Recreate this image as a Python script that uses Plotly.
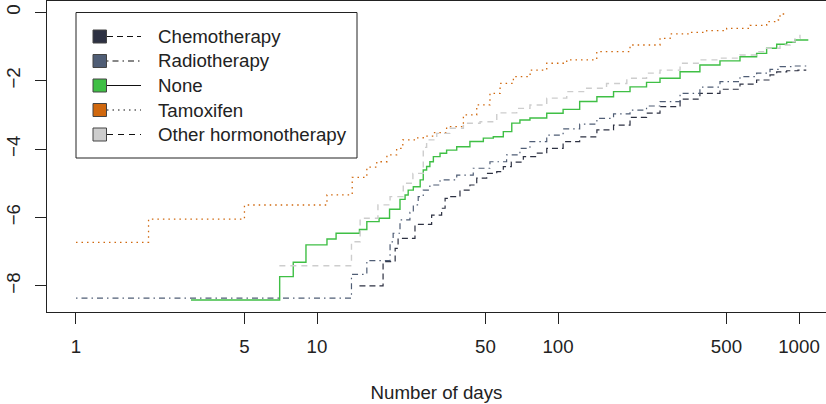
import plotly.graph_objects as go

# ---------------- data ----------------
chemo_t = [15, 18.8, 21.1, 21.7, 25.5, 29.9, 32.9, 34.0, 35.6, 39.2, 43.1, 46.0, 50.6, 55.7, 59.3, 64,
           71.8, 81.6, 89.8, 105, 123, 145, 170, 199, 233, 265, 321, 388, 470, 569, 667, 758, 808,
           889, 990, 1072]
chemo_y = [-8.0, -7.29, -6.90, -6.61, -6.20, -5.93, -5.73, -5.44, -5.39, -5.20, -5.05, -4.85, -4.71,
           -4.66, -4.51, -4.38, -4.22, -4.12, -3.98, -3.78, -3.64, -3.44, -3.30, -3.07, -2.95, -2.76,
           -2.54, -2.37, -2.25, -2.10, -1.98, -1.83, -1.74, -1.71, -1.69, -1.69]

radio_t = [1, 13.9, 16.1, 20.1, 20.7, 22.1, 24.3, 25.1, 26.3, 27.6, 29.4, 32.4, 38.0, 44.5, 52.2,
           61.2, 69.5, 76.5, 89.8, 105, 123, 145, 170, 199, 233, 265, 321, 388, 470, 569, 667, 758,
           834, 947, 1093]
radio_y = [-8.36, -7.66, -7.26, -6.71, -6.46, -6.07, -5.85, -5.63, -5.39, -5.20, -5.05, -4.90, -4.76,
           -4.56, -4.37, -4.17, -3.98, -3.78, -3.59, -3.41, -3.27, -3.10, -2.97, -2.86, -2.74, -2.61,
           -2.37, -2.19, -2.03, -1.88, -1.78, -1.67, -1.59, -1.57, -1.56]

none_t = [3.0, 7.0, 7.97, 9.0, 11.0, 12.0, 15.0, 16.1, 18.1, 20.0, 22.1, 23.2, 23.9, 25.1, 26.8, 27.6,
          28.5, 29.4, 30.4, 32.4, 34.5, 38.0, 43.1, 49.0, 53.9, 59.3, 64.3, 69.5, 76.5, 89.8, 105, 123,
          145, 170, 199, 233, 265, 321, 388, 470, 569, 667, 734, 808, 889, 962, 1093]
none_y = [-8.41, -7.73, -7.31, -6.80, -6.63, -6.46, -6.35, -6.12, -6.02, -5.76, -5.47, -5.34, -5.20,
          -5.10, -4.90, -4.61, -4.51, -4.37, -4.22, -4.12, -4.03, -3.93, -3.78, -3.68, -3.64, -3.49,
          -3.24, -3.15, -3.09, -2.95, -2.84, -2.61, -2.47, -2.32, -2.18, -2.05, -1.93, -1.74, -1.54,
          -1.42, -1.30, -1.20, -1.05, -0.935, -0.877, -0.81, -0.81]

tamox_t = [1, 2, 5, 11, 14, 16.1, 17.7, 19.5, 21.4, 22.7, 25.9, 27.6, 30.4, 34.5, 40.5, 46, 52.2, 57.5,
           65.3, 76.6, 89.8, 108.7, 144.8, 199, 265, 292, 353, 414, 501, 626, 734, 820, 834, 889]
tamox_y = [-6.725, -6.05, -5.635, -5.34, -4.825, -4.53, -4.37, -4.17, -3.98, -3.73, -3.67, -3.62, -3.52,
           -3.345, -3.00, -2.71, -2.37, -2.08, -1.88, -1.69, -1.49, -1.39, -1.15, -0.956, -0.76, -0.634,
           -0.585, -0.538, -0.468, -0.38, -0.275, -0.225, -0.05, -0.03]

other_t = [6.98, 13.9, 15.1, 17.9, 20.1, 22.8, 25.0, 27.6, 28.5, 31.4, 35.6, 40.5, 47.5, 55.7, 67.4,
           76.5, 89.8, 108.7, 131.5, 159, 193, 233, 265, 321, 388, 470, 569, 667, 734, 834, 918, 962, 1009]
other_y = [-7.41, -6.71, -6.02, -5.63, -5.39, -5.0, -4.71, -3.95, -3.73, -3.54, -3.39, -3.245, -3.2,
           -2.94, -2.81, -2.71, -2.51, -2.32, -2.22, -2.08, -1.93, -1.78, -1.69, -1.49, -1.39, -1.34,
           -1.25, -1.15, -1.05, -0.956, -0.86, -0.76, -0.66]

group_names = ["Chemotherapy", "Radiotherapy", "None", "Tamoxifen", "Other hormonotherapy"]
x_tick_vals = [1, 5, 10, 50, 100, 500, 1000]
x_tick_text = ["1", "5", "10", "50", "100", "500", "1000"]
y_tick_vals = [0, -2, -4, -6, -8]
x_title = "Number of days"

# ---------------- styles ----------------
colors = ["#2D3142", "#4F5D75", "#3FBF45", "#D0680E", "#CDCDCD"]
dashes = ["6px,4px", "1.5px,4px,6px,4px", "solid", "1.5px,4px", "6px,5px"]
widths = [1.2, 1.2, 1.4, 1.3, 1.4]
FONT = "Liberation Sans, Arial, sans-serif"
FS = 18.7

series = [(chemo_t, chemo_y), (radio_t, radio_y), (none_t, none_y), (tamox_t, tamox_y), (other_t, other_y)]

fig = go.Figure()
for (t, y), name, c, d, w in zip(series, group_names, colors, dashes, widths):
    fig.add_trace(go.Scatter(x=t, y=y, mode="lines", name=name,
                             line=dict(color=c, dash=d, width=w, shape="hv"),
                             showlegend=False, hoverinfo="skip"))

W, H = 826, 404
L, R, T, B = 47, 0, 1, 92
pw, ph = W - L - R, H - T - B


def px(xp):
    return (xp - L) / pw


def py(yp):
    return (H - B - yp) / ph


# ---------------- manual legend (R style) ----------------
shapes = [dict(type="rect", xref="paper", yref="paper", x0=px(76), x1=px(357), y0=py(158), y1=py(12.5),
               line=dict(color="#222222", width=1), fillcolor="white", layer="below")]
annotations = []
row_y = [36.5, 61, 85.5, 110, 134.5]
for i, name in enumerate(group_names):
    yc = row_y[i]
    shapes.append(dict(type="line", xref="paper", yref="paper", x0=px(107), x1=px(141),
                       y0=py(yc), y1=py(yc), line=dict(color="#111111", width=1.2, dash=dashes[i])))
    shapes.append(dict(type="rect", xref="paper", yref="paper", x0=px(93), x1=px(106.5),
                       y0=py(yc + 6.5), y1=py(yc - 6.5), fillcolor=colors[i],
                       line=dict(color="#444444", width=1)))
    annotations.append(dict(xref="paper", yref="paper", x=px(156), y=py(yc), text=name,
                            showarrow=False, xanchor="left", yanchor="middle",
                            font=dict(family=FONT, size=FS, color="#222222")))

fig.update_layout(
    width=W, height=H,
    margin=dict(l=L, r=R, t=T, b=B, autoexpand=False),
    paper_bgcolor="white", plot_bgcolor="white",
    font=dict(family=FONT, size=FS, color="#222222"),
    shapes=shapes, annotations=annotations,
    showlegend=False,
)
fig.update_xaxes(type="log", range=[-0.1203, 3.112], automargin=False,
                 tickvals=x_tick_vals, ticktext=x_tick_text,
                 showgrid=False, zeroline=False,
                 showline=True, linecolor="#222222", linewidth=1, mirror=True,
                 ticks="outside", ticklen=11, tickwidth=1, tickcolor="#222222",
                 ticklabelstandoff=7,
                 tickfont=dict(family=FONT, size=FS, color="#222222"),
                 title=dict(text=x_title, standoff=29, font=dict(family=FONT, size=FS, color="#222222")))
fig.update_yaxes(range=[-8.763, 0.330], tickvals=y_tick_vals, automargin=False,
                 tickangle=-90,
                 showgrid=False, zeroline=False,
                 showline=True, linecolor="#222222", linewidth=1, mirror=False,
                 ticks="outside", ticklen=11, tickwidth=1, tickcolor="#222222",
                 ticklabelstandoff=8,
                 tickfont=dict(family=FONT, size=FS, color="#222222"))

fig.write_html("out.html",
               config={"displayModeBar": False, "staticPlot": True},
               post_script="document.body.style.margin='0';document.body.style.padding='0';")
